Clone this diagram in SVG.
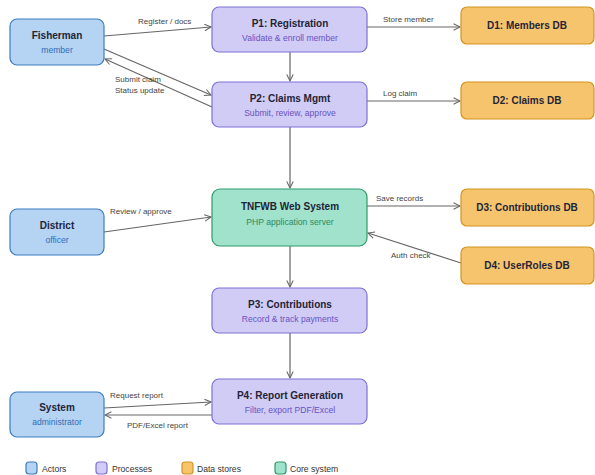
<svg xmlns="http://www.w3.org/2000/svg" width="595" height="475" viewBox="0 0 595 475">
<defs>
<marker id="arr" viewBox="0 0 10 10" refX="9" refY="5" markerWidth="8" markerHeight="8" markerUnits="userSpaceOnUse" orient="auto">
<path d="M1,1 L9,5 L1,9" fill="none" stroke="#666" stroke-width="1.3"/>
</marker>
<style>
text{font-family:"Liberation Sans",Arial,sans-serif}
.t{font-size:10px;font-weight:bold;fill:#1f2437;text-anchor:middle}
.s{font-size:8.6px;text-anchor:middle}
.actor rect{fill:#b5d3f3;stroke:#3d7cc0;stroke-width:1.2}
.actor .s{fill:#2f6db5}
.proc rect{fill:#d1ccf6;stroke:#7d70d8;stroke-width:1.2}
.proc .s{fill:#6652c4}
.store rect{fill:#f7c46e;stroke:#d4931e;stroke-width:1.2}
.core rect{fill:#a0e2cb;stroke:#2e9a6c;stroke-width:1.2}
.core .s{fill:#2c8a62}
.e{stroke:#666;stroke-width:1.2;fill:none;marker-end:url(#arr)}
.l{font-size:8px;fill:#444}
.lg{font-size:8.6px;fill:#333}
</style>
</defs>
<g id="connectors">
<line class="e" x1="104" y1="36" x2="211" y2="27"/>
<line class="e" x1="104" y1="49" x2="211" y2="95"/>
<line class="e" x1="212" y1="107" x2="105" y2="59"/>
<line class="e" x1="290" y1="52" x2="290" y2="81"/>
<line class="e" x1="367" y1="27" x2="460" y2="27"/>
<line class="e" x1="367" y1="101" x2="460" y2="101"/>
<line class="e" x1="290" y1="127" x2="290" y2="188"/>
<line class="e" x1="104" y1="232" x2="211" y2="217"/>
<line class="e" x1="367" y1="206" x2="460" y2="206"/>
<line class="e" x1="461" y1="263" x2="368" y2="233"/>
<line class="e" x1="290" y1="246" x2="290" y2="287"/>
<line class="e" x1="290" y1="333" x2="290" y2="378"/>
<line class="e" x1="104" y1="408" x2="211" y2="402"/>
<line class="e" x1="212" y1="415" x2="105" y2="415"/>
<text class="l" x="138" y="24">Register / docs</text>
<text class="l" x="115" y="82">Submit claim</text>
<text class="l" x="115" y="93">Status update</text>
<text class="l" x="383" y="22">Store member</text>
<text class="l" x="383" y="96">Log claim</text>
<text class="l" x="110" y="214">Review / approve</text>
<text class="l" x="376" y="201">Save records</text>
<text class="l" x="391" y="258">Auth check</text>
<text class="l" x="110" y="398">Request report</text>
<text class="l" x="127" y="428">PDF/Excel report</text>
</g>
<g id="fisherman" class="actor"><rect x="10" y="19" width="94" height="46" rx="7"/><text class="t" x="57" y="39">Fisherman</text><text class="s" x="57" y="53">member</text></g>
<g id="district" class="actor"><rect x="10" y="209" width="94" height="46" rx="7"/><text class="t" x="57" y="229">District</text><text class="s" x="57" y="243">officer</text></g>
<g id="sysadmin" class="actor"><rect x="10" y="392" width="94" height="45" rx="7"/><text class="t" x="57" y="411">System</text><text class="s" x="57" y="425">administrator</text></g>
<g id="p1" class="proc"><rect x="212" y="7" width="155" height="45" rx="7"/><text class="t" x="290" y="27">P1: Registration</text><text class="s" x="290" y="41">Validate &amp; enroll member</text></g>
<g id="p2" class="proc"><rect x="212" y="82" width="155" height="45" rx="7"/><text class="t" x="290" y="102">P2: Claims Mgmt</text><text class="s" x="290" y="116">Submit, review, approve</text></g>
<g id="core" class="core"><rect x="212" y="189" width="155" height="57" rx="8"/><text class="t" x="290" y="210">TNFWB Web System</text><text class="s" x="290" y="225">PHP application server</text></g>
<g id="p3" class="proc"><rect x="212" y="288" width="155" height="45" rx="7"/><text class="t" x="290" y="308">P3: Contributions</text><text class="s" x="290" y="322">Record &amp; track payments</text></g>
<g id="p4" class="proc"><rect x="212" y="379" width="155" height="45" rx="7"/><text class="t" x="290" y="399">P4: Report Generation</text><text class="s" x="290" y="413">Filter, export PDF/Excel</text></g>
<g id="d1" class="store"><rect x="461" y="7" width="133" height="37" rx="6"/><text class="t" x="527" y="29">D1: Members DB</text></g>
<g id="d2" class="store"><rect x="461" y="82" width="133" height="37" rx="6"/><text class="t" x="527" y="104">D2: Claims DB</text></g>
<g id="d3" class="store"><rect x="461" y="189" width="133" height="37" rx="6"/><text class="t" x="527" y="211">D3: Contributions DB</text></g>
<g id="d4" class="store"><rect x="461" y="247" width="133" height="37" rx="6"/><text class="t" x="527" y="269">D4: UserRoles DB</text></g>
<g id="legend">
<g class="actor"><rect x="26" y="462" width="11" height="12" rx="3"/></g><text class="lg" x="42" y="472">Actors</text>
<g class="proc"><rect x="96" y="462" width="11" height="12" rx="3"/></g><text class="lg" x="112" y="472">Processes</text>
<g class="store"><rect x="182" y="462" width="11" height="12" rx="3"/></g><text class="lg" x="197" y="472">Data stores</text>
<g class="core"><rect x="275" y="462" width="11" height="12" rx="3"/></g><text class="lg" x="290" y="472">Core system</text>
</g>
</svg>
